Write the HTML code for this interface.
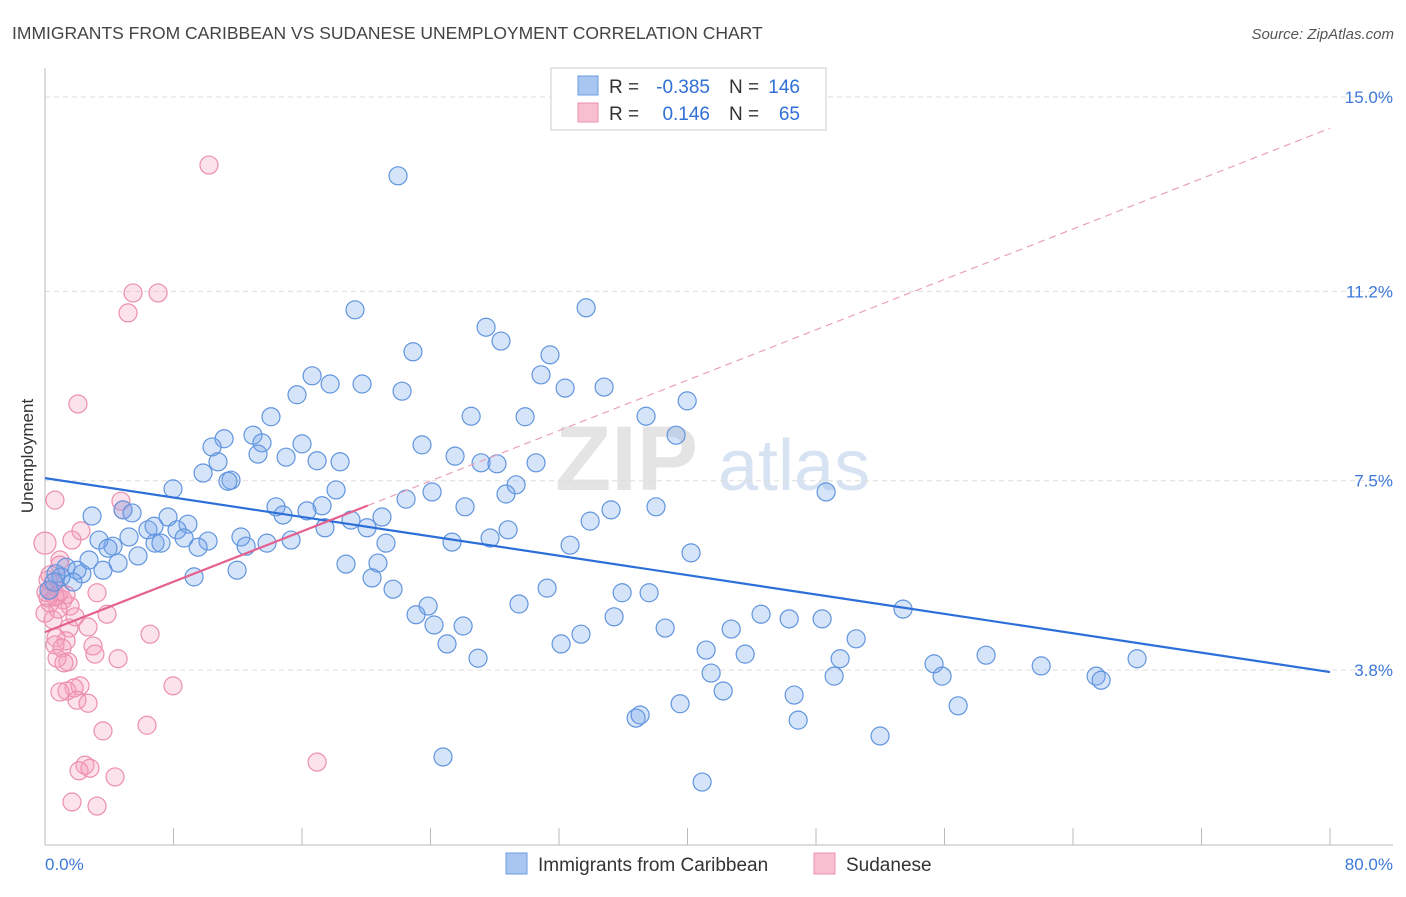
<!DOCTYPE html>
<html><head><meta charset="utf-8"><style>
body{margin:0;background:#fff;font-family:"Liberation Sans",sans-serif}
svg text{font-family:"Liberation Sans",sans-serif}
</style></head><body>
<svg id="chart" width="1406" height="892" viewBox="0 0 1406 892" xmlns="http://www.w3.org/2000/svg">
<text x="12" y="39" font-size="17.5" fill="#444">IMMIGRANTS FROM CARIBBEAN VS SUDANESE UNEMPLOYMENT CORRELATION CHART</text>
<text x="1394" y="39" font-size="15" fill="#555" font-style="italic" text-anchor="end">Source: ZipAtlas.com</text>
<g>
<text x="555" y="490" font-size="92" fill="#e4e4e4" font-family="Liberation Serif,serif" font-weight="bold">ZIP</text>
<text x="718" y="490" font-size="72" fill="#d7e3f3">atlas</text>
</g>
<g id="grid"></g>
<g id="axes"></g>
<g id="marks"></g>
<text transform="translate(33,456) rotate(-90)" font-size="17" fill="#333" text-anchor="middle">Unemployment</text>
<g>
<rect x="551" y="68" width="275" height="62" fill="#fff" stroke="#ccc"/>
<g>
<rect x="578" y="76" width="20" height="19" fill="#a8c6f0" stroke="#6a9be0"/>
<text x="609" y="93" font-size="19" fill="#333">R =</text>
<text x="710" y="93" font-size="19" fill="#2f6fd6" text-anchor="end">-0.385</text>
<text x="729" y="93" font-size="19" fill="#333">N =</text>
<text x="800" y="93" font-size="19" fill="#2f6fd6" text-anchor="end">146</text>
</g>
<g>
<rect x="578" y="103" width="20" height="19" fill="#f7bfd0" stroke="#ec8fae"/>
<text x="609" y="120" font-size="19" fill="#333">R =</text>
<text x="710" y="120" font-size="19" fill="#2f6fd6" text-anchor="end">0.146</text>
<text x="729" y="120" font-size="19" fill="#333">N =</text>
<text x="800" y="120" font-size="19" fill="#2f6fd6" text-anchor="end">65</text>
</g>
</g>
<g>
<rect x="506" y="853" width="21" height="21" fill="#a8c6f0" stroke="#6a9be0"/>
<text x="538" y="871" font-size="19" fill="#333">Immigrants from Caribbean</text>
<rect x="814" y="853" width="21" height="21" fill="#f7bfd0" stroke="#ec8fae"/>
<text x="846" y="871" font-size="19" fill="#333">Sudanese</text>
</g>
</svg>
<script>
const yTicks=[3.8,7.5,11.2,15.0];
const yTickLabels=["3.8%","7.5%","11.2%","15.0%"];
const xTickCount=10;
const xTickLabels=["0.0%","80.0%"];
const blueX=[21.98,19.30,33.69,27.46,28.39,22.91,31.44,16.63,17.75,19.74,30.88,15.69,22.23,32.38,34.81,39.98,14.07,26.53,29.89,37.42,12.95,11.15,10.40,13.51,16.00,23.47,39.29,13.26,15.01,10.77,16.94,18.37,25.53,27.15,28.14,30.57,9.84,11.58,11.39,29.33,7.97,18.12,24.10,22.48,28.70,48.63,14.38,17.25,14.82,16.31,26.15,35.24,38.04,2.93,4.86,5.42,7.66,19.05,20.98,6.41,6.79,8.90,8.22,20.05,17.43,28.83,33.94,12.20,13.82,15.32,12.52,4.23,5.23,8.66,6.85,7.22,10.15,9.53,21.23,25.34,27.71,32.69,3.36,2.74,4.55,3.92,5.79,40.22,18.74,20.73,11.96,1.31,2.30,1.99,3.61,1.74,1.00,0.68,0.25,0.56,9.28,20.36,21.67,31.26,35.93,37.61,29.51,23.85,23.10,35.43,24.22,26.03,33.37,38.61,42.72,44.58,46.33,48.38,53.42,25.03,32.13,26.96,41.16,43.59,50.50,49.50,55.35,58.59,62.02,67.99,65.44,65.75,55.85,49.13,41.47,42.22,39.54,46.64,56.85,36.80,37.05,46.89,51.99,24.78,40.91];
const blueY=[13.46,10.84,10.88,10.50,10.23,10.02,9.96,9.55,9.39,9.39,9.57,9.18,9.25,9.31,9.33,9.06,8.75,8.76,8.75,8.76,8.39,8.32,8.16,8.24,8.22,8.20,8.39,8.02,7.96,7.87,7.89,7.87,7.98,7.85,7.83,7.85,7.65,7.51,7.49,7.42,7.34,7.32,7.28,7.14,7.24,7.28,6.99,7.01,6.83,6.91,6.99,6.93,6.99,6.81,6.93,6.87,6.79,6.73,6.79,6.54,6.61,6.65,6.54,6.58,6.58,6.54,6.71,6.40,6.28,6.34,6.22,6.22,6.40,6.38,6.28,6.28,6.32,6.20,6.28,6.30,6.38,6.24,6.34,5.95,5.89,6.18,6.03,6.09,5.87,5.89,5.75,5.81,5.68,5.75,5.75,5.52,5.62,5.68,5.36,5.52,5.62,5.60,5.38,5.40,5.31,5.31,5.09,5.05,4.88,4.84,4.68,4.66,4.50,4.62,4.60,4.89,4.80,4.80,4.99,4.31,4.31,4.03,4.19,4.11,4.41,4.02,3.92,4.09,3.88,4.02,3.68,3.60,3.68,3.68,3.74,3.39,3.14,3.31,3.10,2.86,2.92,2.82,2.51,2.10,1.61];
const pinkX=[10.21,5.48,7.04,5.17,2.05,0.62,4.73,4.86,2.24,1.68,0,0.93,0.19,0.50,0.37,0.75,1.12,0.31,1.56,0.06,0.93,1.31,0.19,0.62,1.87,0.50,3.86,3.24,2.68,1.49,6.54,0.68,1.31,0.62,1.06,2.99,3.11,1.43,0.75,4.55,1.18,2.18,1.81,1.37,0.93,7.97,1.99,2.68,6.35,3.61,2.49,2.12,4.36,2.80,1.68,3.24,16.94,0.93,0.31,0.81,0];
const pinkY=[13.67,11.17,11.17,10.78,9.00,7.12,7.10,6.93,6.52,6.34,6.28,5.95,5.56,5.50,5.36,5.25,5.17,5.11,5.05,5.32,5.34,5.27,5.21,5.23,4.84,4.78,4.89,5.31,4.64,4.62,4.50,4.43,4.37,4.29,4.23,4.27,4.11,3.96,4.03,4.02,3.94,3.49,3.45,3.39,3.37,3.49,3.21,3.15,2.72,2.61,1.94,1.83,1.71,1.88,1.22,1.14,2.00,5.85,5.66,4.99,4.91];
const blueTrend=[7.55,3.76];
const pinkTrend=[4.54,14.39];
const pinkSolidEnd=20.1;

const X0=45,X1=1330,XMAX=80;
const sx=v=>X0+(v/XMAX)*(X1-X0);
const sy=v=>670-(v-3.8)*51.16;
const NS="http://www.w3.org/2000/svg";
function mk(tag,attrs,parent){const e=document.createElementNS(NS,tag);for(const k in attrs)e.setAttribute(k,attrs[k]);parent.appendChild(e);return e;}
const grid=document.getElementById('grid'),axes=document.getElementById('axes'),marks=document.getElementById('marks');
yTicks.forEach((t,i)=>{
 const l=mk('line',{x1:X0,x2:1393,y1:sy(t),y2:sy(t),stroke:'#ddd','stroke-dasharray':'5,4'},grid);
 
 
 const tx=mk('text',{x:1393,y:sy(t)+6,'font-size':17,fill:'#3d78d8','text-anchor':'end'},axes);
 tx.textContent=yTickLabels[i];
 
 
});
const ya=mk('line',{x1:X0,x2:X0,y1:68,y2:845,stroke:'#bbb'},axes);


const xa=mk('line',{x1:X0,x2:1393,y1:845,y2:845,stroke:'#bbb'},axes);


for(let i=0;i<=xTickCount;i++){
 const v=i*XMAX/xTickCount;
 const t=mk('line',{x1:sx(v),x2:sx(v),y1:828,y2:845,stroke:'#bbb'},axes);
 
 
}
const xl0=mk('text',{x:45,y:870,'font-size':17,fill:'#3d78d8'},axes);xl0.textContent=xTickLabels[0];


const xl1=mk('text',{x:1393,y:870,'font-size':17,fill:'#3d78d8','text-anchor':'end'},axes);xl1.textContent=xTickLabels[1];



pinkX.forEach((x,i)=>{
 const c=mk('circle',{cx:sx(x),cy:sy(pinkY[i]),r:(i===10?11:9),fill:'rgba(244,160,188,0.3)',stroke:'#ec8fae','stroke-width':1.2},marks);
 
 
});
blueX.forEach((x,i)=>{
 const c=mk('circle',{cx:sx(x),cy:sy(blueY[i]),r:9,fill:'rgba(120,165,235,0.3)',stroke:'#6195de','stroke-width':1.2},marks);
 
 
});
const bt=mk('line',{x1:sx(0),y1:sy(blueTrend[0]),x2:sx(XMAX),y2:sy(blueTrend[1]),stroke:'#2d6fd8','stroke-width':2.2},marks);


const pSlope=(pinkTrend[1]-pinkTrend[0])/XMAX;
const pd=mk('line',{x1:sx(pinkSolidEnd),y1:sy(pinkTrend[0]+pSlope*pinkSolidEnd),x2:sx(XMAX),y2:sy(pinkTrend[1]),stroke:'#eaa0b8','stroke-width':1.2,'stroke-dasharray':'7,5'},marks);


const ps=mk('line',{x1:sx(0),y1:sy(pinkTrend[0]),x2:sx(pinkSolidEnd),y2:sy(pinkTrend[0]+pSlope*pinkSolidEnd),stroke:'#e4608f','stroke-width':2.2},marks);


</script>
</body></html>
